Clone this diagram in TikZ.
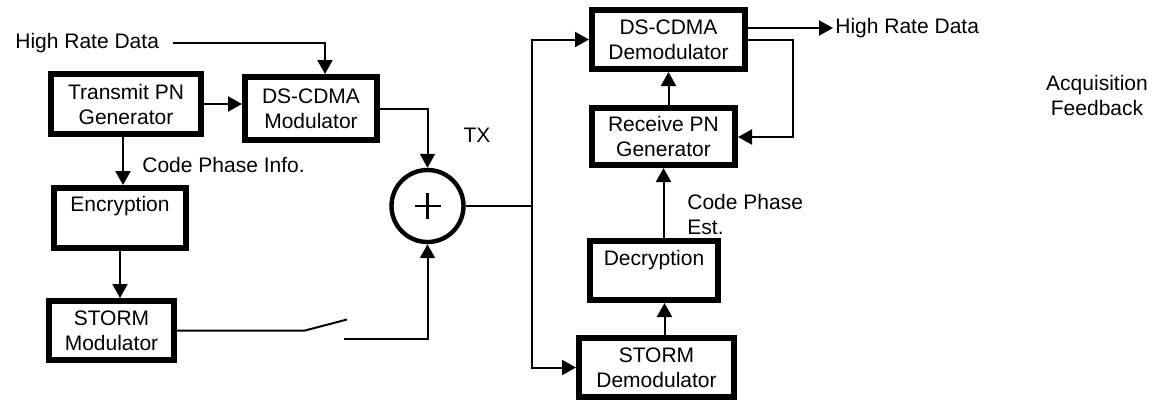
\documentclass[tikz,border=0pt]{standalone}
\usepackage{fontspec}
\setmainfont{Liberation Sans}
\usepackage{tikz}
\usetikzlibrary{arrows.meta}

\begin{document}
\begin{tikzpicture}[x=0.5pt,y=-0.5pt,>={Triangle[length=7pt,width=7.5pt]},
  blk/.style={draw,line width=3pt,align=center,inner sep=0pt},
  wire/.style={line width=1pt},
  lbl/.style={inner sep=1pt,align=left}]
\fontsize{10.5}{12.5}\selectfont
\useasboundingbox (0,0) rectangle (1163,402);

% transmitter
\node[blk,minimum width=75pt,minimum height=30pt] (tpg) at (126,104) {Transmit PN\\Generator};
\node[blk,minimum width=66pt,minimum height=31.5pt] (dscm) at (311,108.5) {DS-CDMA\\Modulator};
\node[blk,minimum width=66pt,minimum height=30pt,text depth=14pt] (enc) at (120,218) {Encryption};
\node[blk,minimum width=62.5pt,minimum height=29.5pt] (smod) at (111.5,330.5) {STORM\\Modulator};
\node[draw,circle,line width=2.2pt,minimum size=36pt,inner sep=0pt] (sum) at (427.5,206) {};
\draw[line width=1.2pt] ([xshift=-6.5pt]sum.center) -- ([xshift=6.5pt]sum.center)
  ([yshift=-6.5pt]sum.center) -- ([yshift=6.5pt]sum.center);

\node[lbl,anchor=west] (hrdin) at (13,43) {High Rate Data};
\node[lbl,anchor=west] (cpi) at (140,165) {Code Phase Info.};
\node[lbl] (tx) at (477,135) {TX};

\draw[wire,->] ([xshift=6pt]hrdin.east) -| ([xshift=7pt]dscm.north);
\draw[wire,->] (tpg.east) -- (tpg.east -| dscm.west);
\draw[wire,->] ([xshift=-1.5pt]tpg.south) -- ([xshift=-1.5pt]tpg.south |- enc.north);
\draw[wire,->] (enc.south) -- (enc.south |- smod.north);
\draw[wire,->] (dscm.east) -| (sum);

% switch
\coordinate (sw1) at (305,335);
\coordinate (sw2) at (344,339);
\draw[wire] (smod.east) -- (smod.east -| sw1) -- ++(42,-11);
\draw[wire,->] (sw2) -| (sum);

% receiver
\node[blk,minimum width=76.5pt,minimum height=29.5pt] (dscd) at (668.5,39.5) {DS-CDMA\\Demodulator};
\node[blk,minimum width=71.5pt,minimum height=28.5pt] (rpn) at (663.5,136.5) {Receive PN\\Generator};
\node[blk,minimum width=64pt,minimum height=29.5pt,text depth=13pt] (dec) at (654,270.5) {Decryption};
\node[blk,minimum width=77.5pt,minimum height=29.5pt] (sdem) at (656.5,367.5) {STORM\\Demodulator};

\node[lbl,anchor=west] (hrdout) at (833,28) {High Rate Data};
\node[lbl,anchor=west] (cpe) at (685,214.5) {Code Phase\\Est.};
\node[align=center,inner sep=1pt] (acq) at (1097,95.5) {Acquisition\\Feedback};

\coordinate (split) at (532,206);
\coordinate (fb) at (793,137);
\draw[wire] (sum.east) -- (split);
\draw[wire,->] (split) |- (dscd);
\draw[wire,->] (split) |- (sdem);
\draw[wire,->] ([xshift=4pt]sdem.north) -- ([xshift=4pt]sdem.north |- dec.south);
\draw[wire,->] (rpn.south |- dec.north) -- (rpn.south);
\draw[wire,->] (dscd.south |- rpn.north) -- (dscd.south);
\draw[wire,->] (hrdout.west -| dscd.east) -- (hrdout.west);
\draw[wire,->] (dscd.east) -| (fb) -- (fb -| rpn.east);
\end{tikzpicture}
\end{document}
